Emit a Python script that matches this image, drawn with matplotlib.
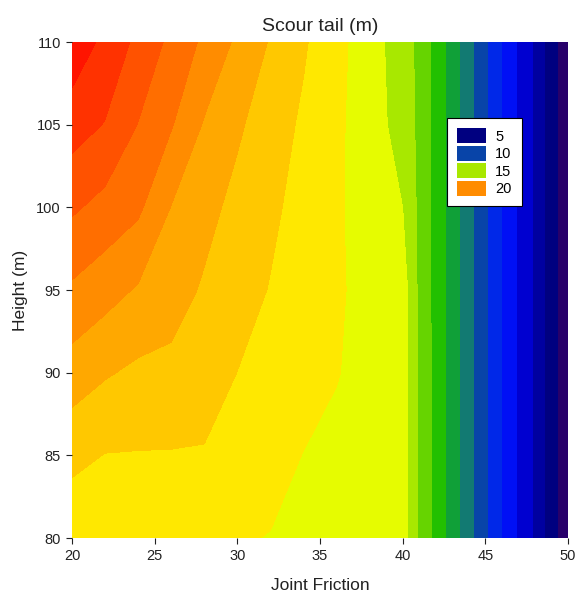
import numpy as np
import matplotlib
matplotlib.use("Agg")
import matplotlib.pyplot as plt
from matplotlib.patches import Patch

plt.rcParams['font.family'] = ['Liberation Sans', 'DejaVu Sans']

# Data grid (Joint Friction x Height) -> Scour tail (m)
friction = [20, 22, 24, 26, 28, 30, 32, 34, 36, 38, 40, 41, 42, 44, 46, 48, 50]
height = [80, 85, 90, 95, 100, 105, 110]
scour = [
    [17.30, 17.25, 17.20, 17.15, 17.10, 17.07, 16.97, 16.82, 16.70, 16.60, 16.55, 14.85, 13.70, 11.34, 9.00, 6.86, 4.16],
    [18.26, 17.97, 17.95, 17.94, 17.92, 17.60, 17.30, 16.98, 16.85, 16.70, 16.55, 14.82, 13.70, 11.34, 9.00, 6.86, 4.16],
    [19.54, 19.10, 18.80, 18.75, 18.50, 17.99, 17.67, 17.35, 17.03, 16.78, 16.55, 14.80, 13.70, 11.34, 9.00, 6.86, 4.16],
    [20.84, 20.38, 19.90, 19.43, 18.88, 18.42, 17.95, 17.52, 17.09, 16.78, 16.52, 14.78, 13.68, 11.34, 9.00, 6.86, 4.16],
    [22.15, 21.68, 21.19, 19.97, 19.31, 18.72, 18.19, 17.66, 17.13, 16.56, 16.00, 14.78, 13.67, 11.34, 9.00, 6.86, 4.16],
    [23.45, 22.95, 21.97, 21.08, 19.91, 19.15, 18.48, 17.84, 17.19, 16.46, 15.60, 14.78, 13.67, 11.34, 9.00, 6.86, 4.16],
    [24.70, 23.75, 22.75, 21.76, 20.80, 19.82, 18.92, 18.12, 17.29, 16.46, 15.44, 14.78, 13.67, 11.34, 9.00, 6.86, 4.16],
]
levels = list(range(4, 26))
band_colors = ['#28006a', '#000080', '#0000a0', '#0000d0', '#0010f5', '#0028e8',
               '#0844a8', '#127a72', '#10a038', '#22c000', '#66d400', '#a8e800',
               '#e6fc00', '#ffe800', '#ffc800', '#ffa800', '#ff8c00', '#ff6e00',
               '#ff5200', '#ff3200', '#ff1400']
legend_values = [5, 10, 15, 20]

fig = plt.figure(figsize=(5.78, 5.97), dpi=100)
ax = fig.add_axes([0.1246, 0.0988, 0.858, 0.8308])

X, Y = np.meshgrid(friction, height)
Z = np.array(scour)
ax.contourf(X, Y, Z, levels=levels, colors=band_colors)

ax.set_xlim(20, 50)
ax.set_ylim(80, 110)
ax.set_xticks([20, 25, 30, 35, 40, 45, 50])
ax.set_yticks([80, 85, 90, 95, 100, 105, 110])
ax.tick_params(direction='out', length=4, width=0.8, labelsize=10.5,
               colors='#222222', pad=4)
for s in ax.spines.values():
    s.set_visible(False)

ax.set_title('Scour tail (m)', fontsize=14, pad=8, color='#222222')
ax.set_xlabel('Joint Friction', fontsize=12.5, labelpad=11, color='#222222')
ax.set_ylabel('Height (m)', fontsize=12.5, labelpad=6, color='#222222')

handles = [Patch(facecolor=band_colors[levels.index(v)], edgecolor='none', label=str(v))
           for v in legend_values]
leg = ax.legend(handles=handles, loc='upper left', bbox_to_anchor=(0.756, 0.847),
                fontsize=10.5, frameon=True, fancybox=False, borderpad=0.7,
                handlelength=2.0, handleheight=1.2, handletextpad=0.6, labelspacing=0.15,
                borderaxespad=0)
leg.get_frame().set_edgecolor('black')
leg.get_frame().set_linewidth(0.8)
leg.get_frame().set_alpha(1)

fig.savefig('out.png', dpi=100)
